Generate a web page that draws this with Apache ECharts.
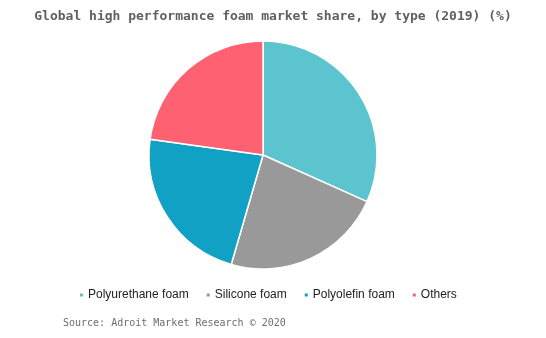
<!DOCTYPE html>
<html><head><meta charset="utf-8">
<script src="https://cdn.jsdelivr.net/npm/echarts@6/dist/echarts.min.js"></script>
<style>html,body{margin:0;padding:0;background:#fff}#c{width:546px;height:338px}</style>
</head><body><div id="c"></div>
<script>
const categories = ["Polyurethane foam", "Silicone foam", "Polyolefin foam", "Others"];
const shares = [31.7, 22.8, 22.7, 22.8];
const colors = ["#5bc4cf", "#999999", "#10a1c5", "#fe6172"];
const titleText = "Global high performance foam market share, by type (2019) (%)";
const sourceText = "Source: Adroit Market Research \u00a9 2020";

const chart = echarts.init(document.getElementById('c'), null, {renderer: 'canvas'});
chart.setOption({
  animation: false,
  color: colors,
  title: [{
    text: titleText, left: 'center', top: 10, padding: 0,
    textStyle: {fontFamily: 'DejaVu Sans Mono', fontSize: 13, fontWeight: 'bold', color: '#606060'}
  }, {
    text: sourceText, left: 63, top: 318, padding: 0,
    textStyle: {fontFamily: 'DejaVu Sans Mono', fontSize: 10, fontWeight: 'normal', color: '#6d6d6d'}
  }],
  legend: {
    data: categories, bottom: 37, left: 78, padding: 0,
    icon: 'rect', itemWidth: 5, itemHeight: 5, itemGap: 16,
    textStyle: {fontFamily: 'Liberation Sans, Arial', fontSize: 12, color: '#222', padding: [0,0,0,-1]}
  },
  series: [{
    type: 'pie', center: [263, 155], radius: 114, startAngle: 90, clockwise: true,
    label: {show: false}, labelLine: {show: false},
    itemStyle: {borderColor: '#fff', borderWidth: 1.5},
    emphasis: {disabled: true},
    data: categories.map((n, i) => ({name: n, value: shares[i]}))
  }]
});
</script></body></html>
